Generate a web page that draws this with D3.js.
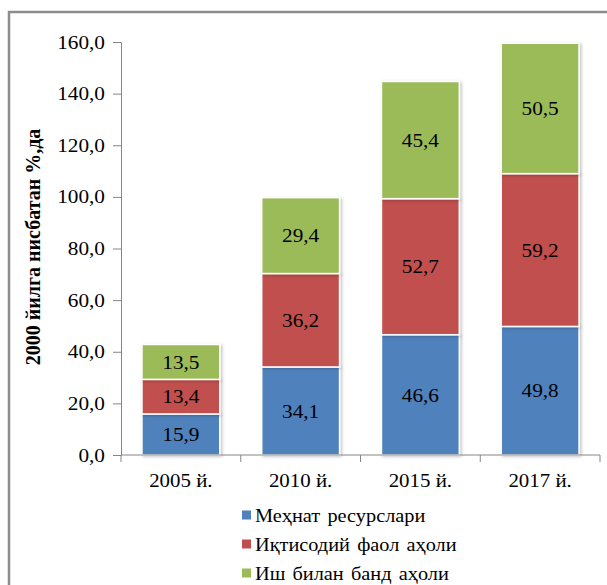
<!DOCTYPE html>
<html lang="uz">
<head>
<meta charset="utf-8">
<title>2000 йилга нисбатан %,да</title>
<script src="https://d3js.org/d3.v7.min.js"></script>
<style>
  body { margin: 0; background: #fff; }
  svg text { font-family: "Liberation Serif", Tinos, "DejaVu Serif", serif; fill: #000; }
</style>
</head>
<body>
<svg width="607" height="585"></svg>
<script>
// data
var years = ["2005 й.", "2010 й.", "2015 й.", "2017 й."];
var seriesNames = ["Меҳнат ресурслари", "Иқтисодий фаол аҳоли", "Иш билан банд аҳоли"];
var mehnat = [15.9, 34.1, 46.6, 49.8];
var iqtisodiy = [13.4, 36.2, 52.7, 59.2];
var ishBilan = [13.5, 29.4, 45.4, 50.5];
var yTicks = [0, 20, 40, 60, 80, 100, 120, 140, 160];
var colors = ["#4f81bd", "#c0504d", "#9bbb59"];

var svg = d3.select("svg");

// outer frame of the chart area
svg.append("path")
   .attr("d", "M9,590 V12 H612")
   .attr("fill", "none")
   .attr("stroke", "#8c8c8c")
   .attr("stroke-width", 2.5);

var plotLeft = 121, plotRight = 600, plotTop = 42, plotBottom = 455;

var x = d3.scaleBand().domain(years).range([plotLeft, plotRight]).paddingInner(0.35).paddingOuter(0.175);
var y = d3.scaleLinear().domain([0, 160]).range([plotBottom, plotTop]);

var fmt = function(d) { return d3.format(".1f")(d).replace(".", ","); };

// stack the series
var rows = years.map(function(yr, i) {
  return { year: yr, s0: mehnat[i], s1: iqtisodiy[i], s2: ishBilan[i] };
});
var stacked = d3.stack().keys(["s0", "s1", "s2"])(rows);

// shadow
var defs = svg.append("defs");
var f = defs.append("filter").attr("id", "sh").attr("x", "-10%").attr("y", "-10%").attr("width", "130%").attr("height", "130%");
f.append("feDropShadow").attr("dx", 1.5).attr("dy", 1).attr("stdDeviation", 1.5).attr("flood-color", "#000").attr("flood-opacity", 0.25);

var g = svg.append("g");
stacked.forEach(function(layer, li) {
  g.selectAll(".bar" + li)
   .data(layer)
   .enter().append("rect")
   .attr("x", function(d) { return x(d.data.year); })
   .attr("y", function(d) { return y(d[1]); })
   .attr("width", x.bandwidth())
   .attr("height", function(d) { return y(d[0]) - y(d[1]); })
   .attr("fill", colors[li])
   .attr("stroke", "#fff")
   .attr("stroke-width", 1.5)
   .attr("filter", "url(#sh)");

  g.selectAll(".lbl" + li)
   .data(layer)
   .enter().append("text")
   .attr("transform", function(d) {
     return "translate(" + (x(d.data.year) + x.bandwidth() / 2) + "," + ((y(d[0]) + y(d[1])) / 2) + ") scale(1.12,1)";
   })
   .attr("dy", "0.35em")
   .attr("text-anchor", "middle")
   .style("font-size", "19px")
   .text(function(d) { return fmt(d[1] - d[0]); });
});

// y axis
var yAxis = svg.append("g")
   .attr("transform", "translate(" + plotLeft + ",0)")
   .call(d3.axisLeft(y).tickValues(yTicks).tickFormat(fmt).tickSize(8).tickSizeOuter(0));
yAxis.attr("font-family", null).attr("font-size", null);
yAxis.select(".domain").attr("stroke", "#868686");
yAxis.selectAll(".tick line").attr("stroke", "#868686");
yAxis.selectAll("text").style("font-size", "19px").attr("x", null)
     .attr("transform", "translate(-16,0) scale(1.12,1)");

// x axis with ticks between categories
var xAxis = svg.append("g").attr("transform", "translate(0," + plotBottom + ")");
xAxis.append("line").attr("x1", plotLeft).attr("x2", plotRight).attr("stroke", "#868686");
var xEdges = [plotLeft].concat(years.map(function(d) { return x(d) + x.bandwidth() + x.step() * x.paddingInner() / 2; }));
xAxis.selectAll(".xt")
   .data(xEdges)
   .enter().append("line")
   .attr("x1", function(d) { return d; })
   .attr("x2", function(d) { return d; })
   .attr("y1", 0).attr("y2", 7)
   .attr("stroke", "#868686");
xAxis.selectAll(".xl")
   .data(years)
   .enter().append("text")
   .attr("transform", function(d) { return "translate(" + (x(d) + x.bandwidth() / 2) + ",32) scale(1.1,1)"; })
   .attr("text-anchor", "middle")
   .style("font-size", "19px")
   .text(function(d) { return d; });

// y title
svg.append("text")
   .attr("transform", "translate(40,247) rotate(-90)")
   .attr("text-anchor", "middle")
   .style("font-size", "20px")
   .style("font-weight", "bold")
   .text("2000 йилга нисбатан %,да");

// legend
var leg = svg.append("g");
seriesNames.forEach(function(name, i) {
  var ly = 515 + i * 29;
  leg.append("rect").attr("x", 242).attr("y", ly - 4.5).attr("width", 9).attr("height", 9).attr("fill", colors[i]);
  leg.append("text").attr("transform", "translate(255," + (ly + 7) + ") scale(1.07,1)")
     .style("font-size", "19px").style("word-spacing", "2px").text(name);
});
</script>
</body>
</html>
